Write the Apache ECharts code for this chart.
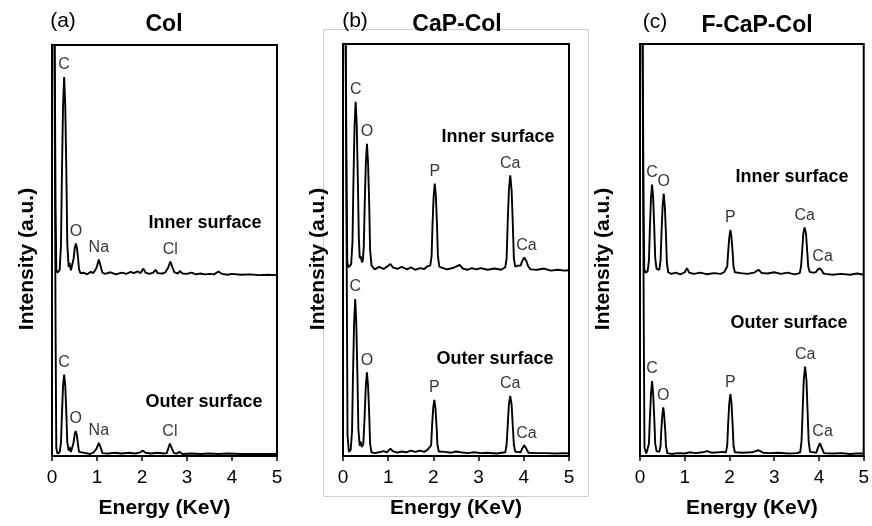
<!DOCTYPE html>
<html>
<head>
<meta charset="utf-8">
<script src="https://cdn.jsdelivr.net/npm/echarts@6/dist/echarts.min.js"></script>
<style>
  html, body { margin: 0; padding: 0; background: #fff; }
  #chart { width: 872px; height: 526px; }
</style>
</head>
<body>
<div id="chart"></div>
<script>
// EDS spectra: [energy (KeV), intensity (a.u.)]
// inner surface curves are offset upwards, outer surface sits on the axis
var colInner = [[0.04,140],[0.065,140],[0.08,60],[0.095,45.5],[0.12,44.6],[0.15,44.9],[0.17,45.2],[0.2,51.5],[0.22,68.3],[0.245,85],[0.27,92.2],[0.295,85],[0.32,68.3],[0.34,51.5],[0.37,46],[0.39,47],[0.42,45.2],[0.46,45.5],[0.48,48],[0.505,50.6],[0.53,51.7],[0.555,50.6],[0.58,48],[0.6,45.5],[0.63,44.5],[0.7,44.6],[0.78,44.2],[0.86,44.8],[0.92,44.5],[0.96,44.6],[0.99,45.8],[1.04,47.8],[1.09,45.8],[1.12,44.6],[1.18,44.3],[1.3,44.7],[1.42,44.2],[1.55,44.6],[1.65,44.3],[1.75,44.8],[1.82,44.5],[1.9,44.9],[1.97,44.5],[2.03,45.6],[2.08,44.6],[2.16,44.3],[2.25,44.6],[2.3,45.3],[2.35,44.5],[2.45,44.4],[2.52,44.7],[2.55,44.6],[2.58,45.8],[2.63,47.3],[2.68,45.8],[2.72,44.7],[2.8,44.4],[2.84,45],[2.9,44.4],[3.0,44.3],[3.1,44.6],[3.2,44.2],[3.3,44.4],[3.4,44.2],[3.5,44.3],[3.6,44.2],[3.7,44.9],[3.78,44.3],[3.9,44.1],[4.0,44.3],[4.2,44.1],[4.4,44.2],[4.6,44.0],[4.8,44.1],[5.0,44.0]];
var colOuter = [[0.04,140],[0.065,140],[0.08,30],[0.095,2],[0.12,0.6],[0.15,0.7],[0.17,0.9],[0.2,3.3],[0.22,10],[0.245,17],[0.27,19.8],[0.295,17],[0.32,10],[0.34,3.3],[0.37,1.3],[0.39,2.2],[0.42,1.0],[0.46,1.2],[0.48,3.3],[0.505,5.3],[0.525,6.1],[0.55,5.2],[0.575,3.0],[0.6,1.0],[0.63,0.6],[0.75,0.7],[0.85,0.5],[0.92,0.8],[0.96,0.7],[0.99,1.8],[1.04,3.2],[1.09,1.8],[1.12,0.7],[1.25,0.6],[1.4,0.8],[1.55,0.6],[1.7,0.8],[1.85,0.6],[1.96,0.9],[2.02,1.3],[2.08,0.8],[2.2,0.6],[2.35,0.8],[2.5,0.6],[2.55,0.7],[2.58,1.7],[2.62,3.0],[2.67,1.7],[2.71,0.7],[2.78,0.6],[2.83,1.0],[2.9,0.5],[3.1,0.6],[3.3,0.5],[3.5,0.6],[3.7,0.5],[3.9,0.6],[4.2,0.5],[4.5,0.5],[4.8,0.5],[5.0,0.5]];

var capInner = [[0.04,140],[0.065,140],[0.08,65],[0.095,47],[0.12,45.8],[0.15,46.0],[0.18,46.5],[0.21,52],[0.23,66],[0.255,80],[0.28,86],[0.305,80],[0.33,66],[0.35,53],[0.37,48],[0.39,48.5],[0.42,47],[0.44,47.5],[0.46,51],[0.48,61],[0.505,71],[0.53,75.8],[0.555,71],[0.58,61],[0.6,50],[0.63,46.3],[0.7,45.3],[0.8,45.9],[0.9,45.4],[1.0,46.2],[1.05,46.6],[1.1,45.8],[1.2,45.4],[1.3,45.9],[1.42,45.3],[1.5,45.8],[1.6,45.2],[1.7,45.6],[1.8,45.4],[1.86,46.0],[1.93,46.2],[1.96,48.5],[1.98,56],[2.005,63],[2.03,66.1],[2.055,63],[2.08,56],[2.1,48.5],[2.13,46],[2.18,45.7],[2.3,45.3],[2.45,45.7],[2.58,46.4],[2.65,45.5],[2.75,45.2],[2.85,45.6],[2.95,45.3],[3.05,45.6],[3.2,45.2],[3.35,45.5],[3.5,45.2],[3.59,45.8],[3.62,48],[3.645,57],[3.67,64.5],[3.7,68.1],[3.73,64.5],[3.755,57],[3.78,48],[3.81,46],[3.87,46.2],[3.93,46.2],[3.96,47.2],[4.01,48.2],[4.06,47.2],[4.1,46],[4.15,45.3],[4.3,45.2],[4.45,45.5],[4.6,45.0],[4.75,45.2],[4.9,45.0],[5.0,45.1]];
var capOuter = [[0.04,140],[0.065,140],[0.085,40],[0.1,5],[0.13,1],[0.15,1.1],[0.17,1.5],[0.2,6],[0.22,19],[0.245,32],[0.27,38.1],[0.295,32],[0.32,19],[0.34,6.5],[0.37,2.5],[0.39,3.5],[0.42,2.2],[0.45,3],[0.48,10],[0.505,17],[0.53,20.3],[0.555,17],[0.58,10],[0.6,3],[0.63,0.9],[0.7,0.7],[0.8,0.9],[0.9,1.2],[0.97,0.9],[1.05,1.8],[1.1,1.2],[1.2,0.8],[1.3,1.1],[1.4,0.9],[1.5,1.3],[1.6,1.0],[1.7,1.3],[1.8,1.0],[1.88,1.6],[1.92,1.2],[1.95,2.6],[1.97,7.2],[1.995,11.6],[2.02,13.6],[2.045,11.6],[2.07,7.2],[2.09,2.6],[2.12,1.1],[2.25,1.0],[2.4,0.8],[2.5,1.1],[2.6,0.9],[2.75,0.7],[2.9,0.9],[3.05,0.7],[3.2,0.8],[3.4,0.6],[3.52,0.8],[3.59,0.9],[3.62,2.8],[3.645,7.6],[3.67,12.5],[3.7,14.6],[3.73,12.5],[3.755,7.6],[3.78,2.8],[3.81,1.0],[3.88,1.0],[3.93,0.9],[3.96,1.7],[4.01,2.6],[4.06,1.7],[4.1,0.8],[4.3,0.7],[4.5,0.7],[4.7,0.6],[4.9,0.7],[5.0,0.6]];

var fcapInner = [[0.04,140],[0.065,140],[0.08,60],[0.095,45.5],[0.12,44.5],[0.15,44.6],[0.17,44.8],[0.2,47.5],[0.22,55],[0.245,62.5],[0.27,65.9],[0.295,62.5],[0.32,55],[0.34,48],[0.37,45.4],[0.4,45.6],[0.43,45.2],[0.46,47.5],[0.48,54],[0.505,60.5],[0.53,63.7],[0.555,60.5],[0.58,54],[0.6,47],[0.63,44.6],[0.7,44.2],[0.8,44.5],[0.9,44.1],[1.0,44.6],[1.05,45.6],[1.1,44.5],[1.2,44.2],[1.35,44.5],[1.5,44.1],[1.65,44.4],[1.8,44.2],[1.88,44.6],[1.92,44.5],[1.95,46],[1.97,49.5],[1.995,53],[2.02,54.9],[2.045,53],[2.07,49.5],[2.09,46],[2.12,44.6],[2.25,44.4],[2.4,44.2],[2.55,44.5],[2.65,45.2],[2.72,44.4],[2.85,44.3],[3.0,44.6],[3.15,44.2],[3.3,44.5],[3.45,44.1],[3.57,44.4],[3.6,46],[3.625,50],[3.65,54],[3.68,55.5],[3.71,54],[3.735,50],[3.76,46],[3.79,44.7],[3.87,44.5],[3.93,44.6],[3.96,45.1],[4.01,45.6],[4.06,45.1],[4.1,44.3],[4.15,44.2],[4.3,44.0],[4.5,44.2],[4.7,44.0],[4.85,44.3],[5.0,44.0]];
var fcapOuter = [[0.04,140],[0.065,140],[0.085,30],[0.1,2],[0.14,0.6],[0.17,0.8],[0.2,3],[0.22,9],[0.245,15],[0.27,18.2],[0.295,15],[0.32,9],[0.34,3],[0.37,1.2],[0.4,1.5],[0.43,1.0],[0.46,2.5],[0.475,6],[0.5,10],[0.52,11.8],[0.54,10],[0.565,6],[0.58,2.5],[0.61,0.7],[0.7,0.5],[0.85,0.7],[1.0,0.6],[1.1,0.9],[1.25,0.7],[1.4,0.9],[1.5,1.2],[1.6,0.8],[1.75,0.9],[1.86,1.0],[1.92,0.8],[1.95,2.6],[1.97,7.7],[1.995,12.8],[2.02,15.0],[2.045,12.8],[2.07,7.7],[2.09,2.6],[2.12,0.9],[2.3,0.8],[2.5,0.9],[2.65,1.4],[2.75,0.8],[2.9,0.7],[3.1,0.8],[3.3,0.6],[3.5,0.7],[3.58,0.9],[3.61,3.5],[3.635,11],[3.66,18.5],[3.69,21.7],[3.72,18.5],[3.745,11],[3.77,3.5],[3.8,1.0],[3.88,0.9],[3.94,0.8],[3.97,1.8],[4.02,3.1],[4.07,1.8],[4.11,0.7],[4.3,0.6],[4.5,0.7],[4.7,0.5],[4.85,0.6],[5.0,0.6]];

// peak labels: [energy, peak top, element]
var colPeaks = [[0.27,92.2,'C'],[0.53,51.7,'O'],[1.04,47.8,'Na'],[2.63,47.3,'Cl'],[0.27,19.8,'C'],[0.525,6.1,'O'],[1.04,3.2,'Na'],[2.62,3.0,'Cl']];
var capPeaks = [[0.28,86,'C'],[0.53,75.8,'O'],[2.03,66.1,'P'],[3.7,68.1,'Ca'],[4.06,48.2,'Ca'],[0.27,38.1,'C'],[0.53,20.3,'O'],[2.02,13.6,'P'],[3.7,14.6,'Ca'],[4.06,2.6,'Ca']];
var fcapPeaks = [[0.27,65.9,'C'],[0.53,63.7,'O'],[2.02,54.9,'P'],[3.68,55.5,'Ca'],[4.08,45.6,'Ca'],[0.27,18.2,'C'],[0.52,11.8,'O'],[2.02,15.0,'P'],[3.69,21.7,'Ca'],[4.08,3.1,'Ca']];

var panelTags = ['(a)', '(b)', '(c)'];
var panelNames = ['Col', 'CaP-Col', 'F-CaP-Col'];
var surfaceNames = ['Inner surface', 'Outer surface'];
var energyTicks = [0, 1, 2, 3, 4, 5];

var FONT = '"Liberation Sans", Arial, sans-serif';

var spectra = [[colInner, colOuter], [capInner, capOuter], [fcapInner, fcapOuter]];
var peaks = [colPeaks, capPeaks, fcapPeaks];

// layout (pixels)
var frames = [
  { left: 52, width: 225, top: 45, height: 411, yName: 27, tag: [63, 21], title: [164, 25], inner: [205, 223], outer: [204, 402] },
  { left: 343, width: 226, top: 44, height: 412, yName: 318, tag: [355, 21], title: [457, 25], inner: [498, 137], outer: [495, 359] },
  { left: 640, width: 226, top: 44, height: 412, yName: 603, tag: [655, 22], title: [757, 26], inner: [792, 177], outer: [789, 323] }
];

var chart = echarts.init(document.getElementById('chart'));

var grids = [], xAxes = [], yAxes = [], series = [], graphics = [];

// light grey box drawn around panel (b) in the original
graphics.push({
  type: 'rect', z: 0,
  shape: { x: 323.5, y: 29.5, width: 265, height: 467 },
  style: { fill: 'none', stroke: '#cfcfcf', lineWidth: 1 }
});

frames.forEach(function (f, i) {
  grids.push({
    left: f.left, width: f.width, top: f.top, height: f.height,
    show: true, borderColor: '#000', borderWidth: 2, backgroundColor: 'transparent'
  });
  xAxes.push({
    gridIndex: i, type: 'value', min: energyTicks[0], max: energyTicks[energyTicks.length - 1], interval: 1,
    name: 'Energy (KeV)', nameLocation: 'middle', nameGap: 42,
    nameTextStyle: { fontFamily: FONT, fontSize: 21, fontWeight: 'bold', color: '#000' },
    axisLine: { show: true, lineStyle: { color: '#000', width: 2 } },
    axisTick: { show: true, inside: false, length: 5, lineStyle: { color: '#000', width: 1.5 } },
    axisLabel: { fontFamily: FONT, fontSize: 19, color: '#000', margin: 12 },
    splitLine: { show: false }
  });
  yAxes.push({
    gridIndex: i, type: 'value', min: 0, max: 100,
    axisLine: { show: true, lineStyle: { color: '#000', width: 2 } },
    axisTick: { show: false }, axisLabel: { show: false }, splitLine: { show: false }
  });

  spectra[i].forEach(function (s) {
    series.push({
      type: 'line', xAxisIndex: i, yAxisIndex: i, data: s,
      showSymbol: false, clip: true, silent: true,
      lineStyle: { color: '#000', width: 1.9 }
    });
  });

  series.push({
    type: 'scatter', xAxisIndex: i, yAxisIndex: i, symbolSize: 0, silent: true,
    data: peaks[i].map(function (p) { return { name: p[2], value: [p[0], p[1]] }; }),
    label: {
      show: true, position: 'top', distance: 4, formatter: '{b}',
      fontFamily: FONT, fontSize: 16, color: '#000'
    }
  });

  graphics.push({
    type: 'text', x: f.yName, y: 259, rotation: Math.PI / 2,
    style: { text: 'Intensity (a.u.)', font: 'bold 21px ' + FONT, fill: '#000', align: 'center', verticalAlign: 'middle' }
  });
  graphics.push({
    type: 'text', x: f.tag[0], y: f.tag[1],
    style: { text: panelTags[i], font: '21px ' + FONT, fill: '#000', align: 'center', verticalAlign: 'middle' }
  });
  graphics.push({
    type: 'text', x: f.title[0], y: f.title[1], z: 10,
    style: { text: panelNames[i], font: 'bold 23px ' + FONT, fill: '#000', align: 'center', verticalAlign: 'middle' }
  });
  graphics.push({
    type: 'text', x: f.inner[0], y: f.inner[1],
    style: { text: surfaceNames[0], font: 'bold 18px ' + FONT, fill: '#000', align: 'center', verticalAlign: 'middle' }
  });
  graphics.push({
    type: 'text', x: f.outer[0], y: f.outer[1],
    style: { text: surfaceNames[1], font: 'bold 18px ' + FONT, fill: '#000', align: 'center', verticalAlign: 'middle' }
  });
});

chart.setOption({
  animation: false,
  backgroundColor: '#fff',
  grid: grids,
  xAxis: xAxes,
  yAxis: yAxes,
  series: series,
  graphic: graphics
});
</script>
</body>
</html>
